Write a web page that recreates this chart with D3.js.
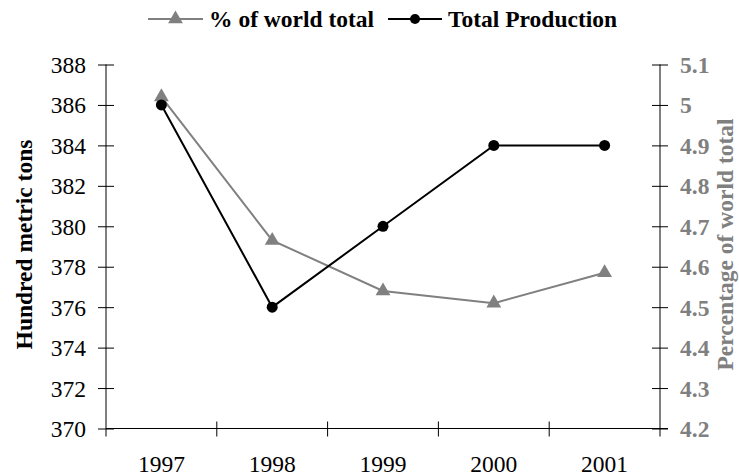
<!DOCTYPE html>
<html>
<head>
<meta charset="utf-8">
<script src="https://cdn.jsdelivr.net/npm/d3@7"></script>
<style>
  html, body { margin: 0; padding: 0; background: #fff; }
  svg { display: block; font-family: "Liberation Serif", "Times New Roman", serif; }
</style>
</head>
<body>
<svg id="chart" width="739" height="476"></svg>
<script>
// Production data, 1997-2001
const years = ["1997", "1998", "1999", "2000", "2001"];
const totalProduction = [386, 376, 380, 384, 384];          // hundred metric tons
const worldShare = [5.02, 4.665, 4.54, 4.51, 4.585];        // % of world total
const leftTicks = [370, 372, 374, 376, 378, 380, 382, 384, 386, 388];
const rightTicks = [4.2, 4.3, 4.4, 4.5, 4.6, 4.7, 4.8, 4.9, 5.0, 5.1];

const GRAY = "#808080";
const FS = 23.5;
const svg = d3.select("#chart");
const plot = { left: 106, right: 660, top: 64.5, bottom: 428.5 };

const x = d3.scaleBand().domain(years).range([plot.left, plot.right]).padding(0);
const yL = d3.scaleLinear().domain([370, 388]).range([plot.bottom, plot.top]);
const yR = d3.scaleLinear().domain([4.2, 5.1]).range([plot.bottom, plot.top]);

// Left axis
const gL = svg.append("g").attr("transform", `translate(${plot.left},0)`)
  .call(d3.axisLeft(yL).tickValues(leftTicks).tickSize(8).tickFormat(d3.format("d")));
gL.select(".domain").remove();
gL.selectAll(".tick line").attr("x1", -8).attr("x2", 8).attr("stroke", "#000");
gL.selectAll(".tick text").attr("font-size", FS).attr("fill", "#000")
  .attr("font-family", "Liberation Serif").attr("dy", "0.34em").attr("x", -20);
gL.append("line").attr("y1", plot.top).attr("y2", plot.bottom + 8).attr("stroke", "#000");

// Right axis
const gR = svg.append("g").attr("transform", `translate(${plot.right},0)`)
  .call(d3.axisRight(yR).tickValues(rightTicks).tickSize(8).tickFormat(d => d3.format("")(+d.toFixed(1))));
gR.select(".domain").remove();
gR.selectAll(".tick line").attr("x1", -8).attr("x2", 8).attr("stroke", "#000");
gR.selectAll(".tick text").attr("font-size", FS).attr("font-weight", "bold").attr("fill", GRAY)
  .attr("font-family", "Liberation Serif").attr("dy", "0.34em").attr("x", 20);
gR.append("line").attr("y1", plot.top).attr("y2", plot.bottom + 8).attr("stroke", "#000");

// Bottom axis: labels centred in each band, ticks on band boundaries
const gB = svg.append("g").attr("transform", `translate(0,${plot.bottom})`)
  .call(d3.axisBottom(x).tickSize(0).tickPadding(27));
gB.select(".domain").remove();
gB.selectAll(".tick text").attr("font-size", FS).attr("fill", "#000").attr("font-family", "Liberation Serif");
gB.append("line").attr("x1", plot.left).attr("x2", plot.right + 8).attr("stroke", "#000");
const bounds = years.map(d => x(d)).concat([x.range()[1]]).slice(1, -1);
gB.selectAll(".bound").data(bounds).join("line").attr("class", "bound")
  .attr("x1", d => d).attr("x2", d => d).attr("y1", -7).attr("y2", 8).attr("stroke", "#000");

// Axis titles
svg.append("text").attr("transform", `translate(24,${(plot.top + plot.bottom) / 2 - 2}) rotate(-90)`)
  .attr("text-anchor", "middle").attr("dominant-baseline", "central")
  .attr("font-size", FS).attr("font-weight", "bold").attr("fill", "#000")
  .text("Hundred metric tons");
svg.append("text").attr("transform", `translate(725,${(plot.top + plot.bottom) / 2 - 2}) rotate(-90)`)
  .attr("text-anchor", "middle").attr("dominant-baseline", "central")
  .attr("font-size", FS).attr("font-weight", "bold").attr("fill", GRAY)
  .text("Percentage of world total");

const cx = d => x(d) + x.bandwidth() / 2;
const tri = d3.symbol().type(d3.symbolTriangle).size(95);

// % of world total series
const shareData = years.map((d, i) => ({ year: d, v: worldShare[i] }));
svg.append("path").datum(shareData)
  .attr("fill", "none").attr("stroke", GRAY).attr("stroke-width", 2)
  .attr("d", d3.line().x(d => cx(d.year)).y(d => yR(d.v)));
svg.selectAll(".tri").data(shareData).join("path").attr("class", "tri")
  .attr("d", tri).attr("fill", GRAY)
  .attr("transform", d => `translate(${cx(d.year)},${yR(d.v)})`);

// Total production series
const prodData = years.map((d, i) => ({ year: d, v: totalProduction[i] }));
svg.append("path").datum(prodData)
  .attr("fill", "none").attr("stroke", "#000").attr("stroke-width", 2)
  .attr("d", d3.line().x(d => cx(d.year)).y(d => yL(d.v)));
svg.selectAll(".dot").data(prodData).join("circle").attr("class", "dot")
  .attr("cx", d => cx(d.year)).attr("cy", d => yL(d.v)).attr("r", 5.5).attr("fill", "#000");

// Legend
const legend = svg.append("g").attr("transform", "translate(0,19)");
const items = [
  { label: "% of world total", color: GRAY, marker: "tri", x0: 148 },
  { label: "Total Production", color: "#000", marker: "dot", x0: 388 }
];
items.forEach(it => {
  const g = legend.append("g").attr("transform", `translate(${it.x0},0)`);
  const w = it.marker === "tri" ? 55 : 54;
  g.append("line").attr("x1", 0).attr("x2", w).attr("stroke", it.color).attr("stroke-width", 2);
  if (it.marker === "tri") {
    g.append("path").attr("d", tri).attr("fill", it.color).attr("transform", `translate(${w / 2},0)`);
  } else {
    g.append("circle").attr("cx", w / 2).attr("r", 5).attr("fill", it.color);
  }
  g.append("text").attr("x", w + 6).attr("dy", "0.34em")
    .attr("font-size", FS).attr("font-weight", "bold").attr("fill", "#000")
    .text(it.label);
});
</script>
</body>
</html>
